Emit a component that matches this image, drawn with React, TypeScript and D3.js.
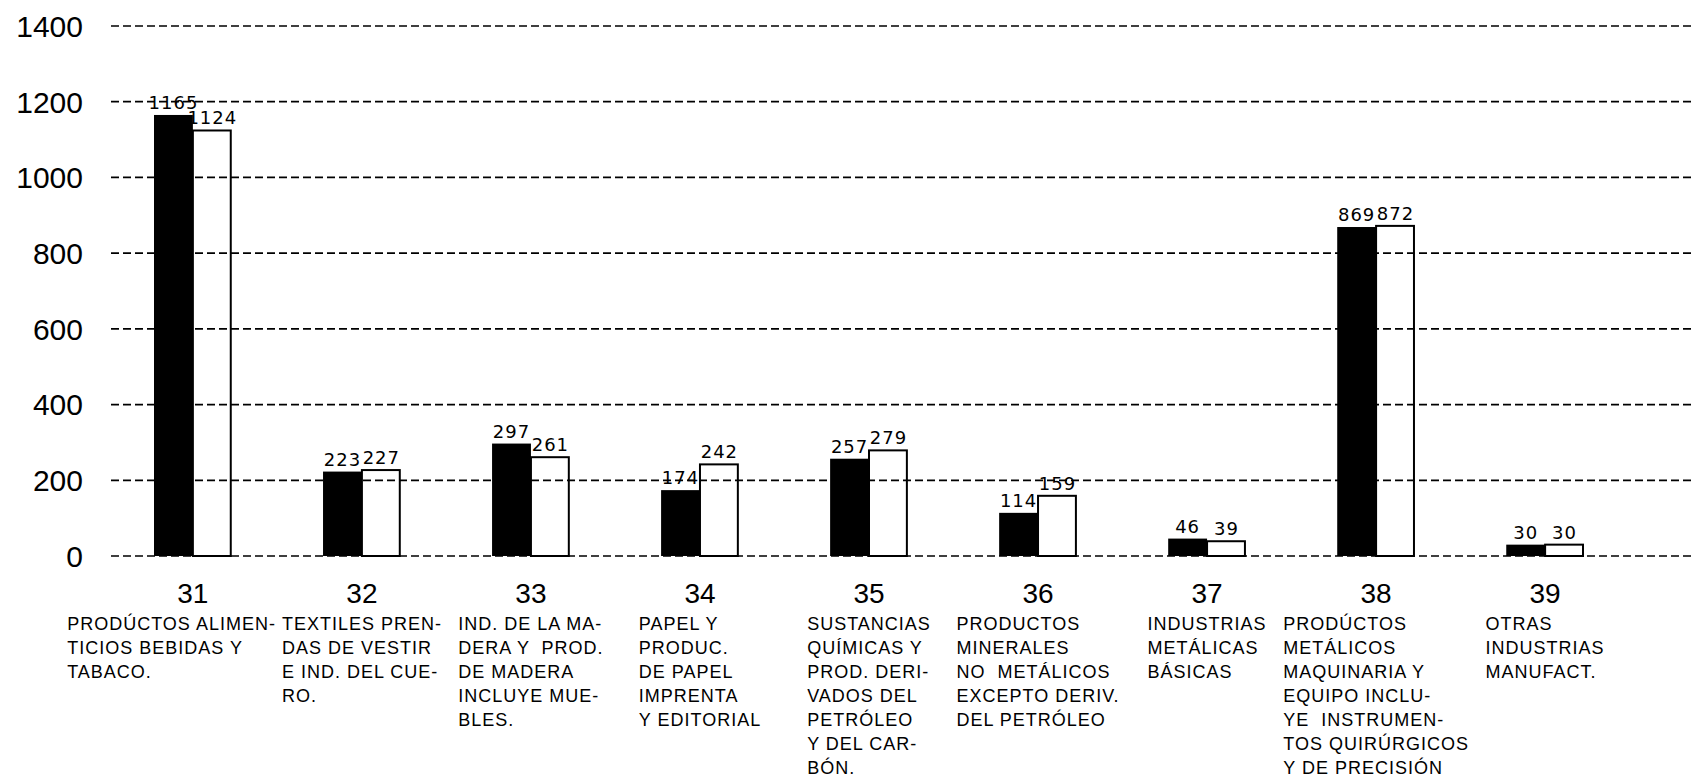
import React, { useEffect, useRef } from "react";
import * as d3 from "d3";

const categories = ["31", "32", "33", "34", "35", "36", "37", "38", "39"];
const seriesBlack = [1165, 223, 297, 174, 257, 114, 46, 869, 30];
const seriesWhite = [1124, 227, 261, 242, 279, 159, 39, 872, 30];
const yTicks = [0, 200, 400, 600, 800, 1000, 1200, 1400];
const descriptions = [
  ["PRODÚCTOS ALIMEN-", "TICIOS BEBIDAS Y", "TABACO."],
  ["TEXTILES PREN-", "DAS DE VESTIR", "E IND. DEL CUE-", "RO."],
  ["IND. DE LA MA-", "DERA Y  PROD.", "DE MADERA", "INCLUYE MUE-", "BLES."],
  ["PAPEL Y", "PRODUC.", "DE PAPEL", "IMPRENTA", "Y EDITORIAL"],
  ["SUSTANCIAS", "QUÍMICAS Y", "PROD. DERI-", "VADOS DEL", "PETRÓLEO", "Y DEL CAR-", "BÓN."],
  ["PRODUCTOS", "MINERALES", "NO  METÁLICOS", "EXCEPTO DERIV.", "DEL PETRÓLEO"],
  ["INDUSTRIAS", "METÁLICAS", "BÁSICAS"],
  ["PRODÚCTOS", "METÁLICOS", "MAQUINARIA Y", "EQUIPO INCLU-", "YE  INSTRUMEN-", "TOS QUIRÚRGICOS", "Y DE PRECISIÓN"],
  ["OTRAS", "INDUSTRIAS", "MANUFACT."],
];

const W = 1693;
const H = 782;

export default function App() {
  const ref = useRef<SVGSVGElement | null>(null);

  useEffect(() => {
    const svg = d3.select(ref.current);
    svg.selectAll("*").remove();

    const x = d3.scaleBand<string>().domain(categories).range([154, 1584]).paddingInner(0.54).paddingOuter(0);
    const xi = d3.scaleBand<string>().domain(["b", "w"]).range([0, x.bandwidth()]).padding(0);
    const y = d3.scaleLinear().domain([0, 1400]).range([556, 26]);

    const data = categories.map((c, i) => ({ c, b: seriesBlack[i], w: seriesWhite[i], desc: descriptions[i] }));

    const valueLabel = (g: any, cx: number, top: number, v: number) =>
      g.append("text")
        .attr("x", cx)
        .attr("y", top - 6)
        .attr("text-anchor", "middle")
        .attr("font-family", "DejaVu Sans, sans-serif")
        .attr("font-size", 18)
        .attr("letter-spacing", 1)
        .text(String(v));

    // bars
    const g = svg.append("g");
    data.forEach((d) => {
      const x0 = x(d.c)!;
      g.append("rect")
        .attr("x", x0 + xi("b")!)
        .attr("y", y(d.b))
        .attr("width", xi.bandwidth())
        .attr("height", y(0) - y(d.b))
        .attr("fill", "#000");
      g.append("rect")
        .attr("x", x0 + xi("w")!)
        .attr("y", y(d.w))
        .attr("width", xi.bandwidth() - 1)
        .attr("height", y(0) - y(d.w))
        .attr("fill", "#fff")
        .attr("stroke", "#000")
        .attr("stroke-width", 2);
      valueLabel(g, x0 + xi("b")! + xi.bandwidth() / 2, y(d.b), d.b);
      valueLabel(g, x0 + xi("w")! + xi.bandwidth() / 2, y(d.w), d.w);
    });

    // gridlines
    svg.append("g")
      .selectAll("line")
      .data(yTicks)
      .join("line")
      .attr("x1", 111)
      .attr("x2", W)
      .attr("y1", (t) => y(t))
      .attr("y2", (t) => y(t))
      .attr("stroke", "#000")
      .attr("stroke-width", 1.7)
      .attr("stroke-dasharray", "8,4");

    // y tick labels
    svg.append("g")
      .selectAll("text")
      .data(yTicks)
      .join("text")
      .attr("x", 83)
      .attr("y", (t) => y(t))
      .attr("dy", "0.36em")
      .attr("text-anchor", "end")
      .attr("font-family", "Liberation Sans, Arial, sans-serif")
      .attr("font-size", 30)
      .text((t) => String(t));

    // category numbers and descriptions
    const blocks: { node: any; left: number; width: number }[] = [];
    data.forEach((d) => {
      const cx = x(d.c)! + x.bandwidth() / 2;
      svg.append("text")
        .attr("x", cx)
        .attr("y", 603)
        .attr("text-anchor", "middle")
        .attr("font-family", "Liberation Sans, Arial, sans-serif")
        .attr("font-size", 28)
        .text(d.c);
      const block = svg.append("g");
      d.desc.forEach((line, li) => {
        block.append("text")
          .attr("x", 0)
          .attr("y", 630 + li * 24)
          .attr("font-family", "Liberation Sans, Arial, sans-serif")
          .attr("font-size", 18)
          .attr("letter-spacing", 1)
          .style("white-space", "pre")
          .text(line);
      });
      const bb = (block.node() as SVGGElement).getBBox();
      blocks.push({ node: block, left: cx - bb.width / 2, width: bb.width });
    });
    // keep neighbouring text blocks from overlapping
    for (let i = blocks.length - 2; i >= 0; i--) {
      const maxRight = blocks[i + 1].left - 6;
      if (blocks[i].left + blocks[i].width > maxRight) blocks[i].left = maxRight - blocks[i].width;
    }
    blocks.forEach((b) => b.node.attr("transform", `translate(${b.left},0)`));
  }, []);

  return (
    <svg
      ref={ref}
      width={W}
      height={H}
      style={{ position: "absolute", left: 0, top: 0, background: "#fff" }}
    />
  );
}
